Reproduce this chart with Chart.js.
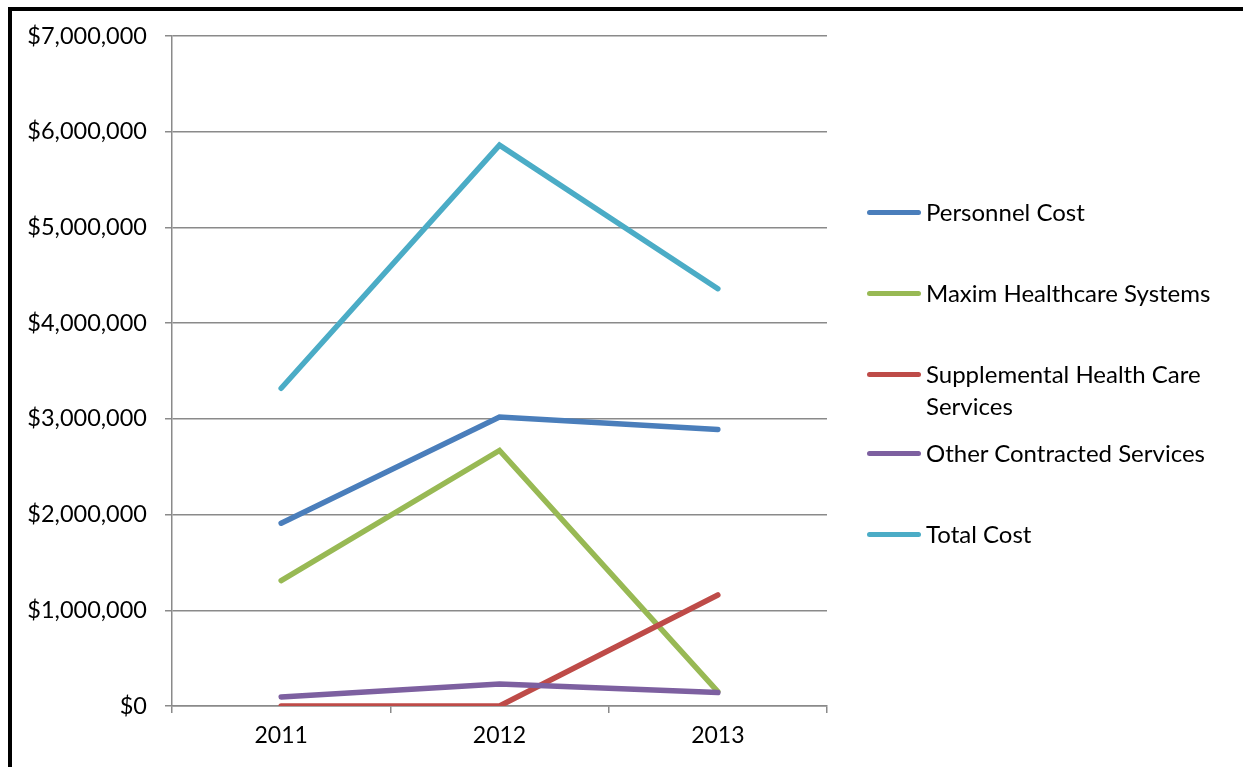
<!DOCTYPE html>
<html>
<head>
<meta charset="utf-8">
<script src="https://cdn.jsdelivr.net/npm/chart.js@4"></script>
<style>
    html, body { margin: 0; padding: 0; background: #fff; }
    body { width: 1243px; height: 767px; position: relative; overflow: hidden; font-family: Lato, "Open Sans", sans-serif; }
    #frame { position: absolute; left: 8px; top: 7px; width: 1300px; height: 800px; border-left: 4px solid #000; border-top: 4px solid #000; }
    #chart-wrap { position: absolute; left: 0; top: 0; width: 1243px; height: 767px; }
    #legend { position: absolute; left: 867px; top: 0; }
    .leg-item { position: absolute; left: 0; white-space: nowrap; font-size: 24px; color: #000; line-height: 32px; }
    .leg-line { position: absolute; left: 0; width: 54px; height: 5px; border-radius: 3px; }
    .leg-text { position: absolute; left: 59px; }
</style>
</head>
<body>
<div id="frame"></div>
<div id="chart-wrap"><canvas id="cost-chart" width="1243" height="767"></canvas></div>
<div id="legend"></div>
<script>
    const years = ['2011', '2012', '2013'];
    const seriesNames = ['Personnel Cost', 'Maxim Healthcare Systems', 'Supplemental Health Care Services', 'Other Contracted Services', 'Total Cost'];
    const personnelCost = [1910000, 3020000, 2890000];
    const maximCost = [1310000, 2670000, 150000];
    const supplementalCost = [0, 0, 1160000];
    const otherCost = [95000, 230000, 140000];
    const totalCost = [3320000, 5860000, 4360000];
    const seriesColors = ['#4A7EBB', '#98B954', '#BE4B48', '#7D60A0', '#4BACC6'];
    const yTicks = [0, 1000000, 2000000, 3000000, 4000000, 5000000, 6000000, 7000000];

    const allValues = [personnelCost, maximCost, supplementalCost, otherCost, totalCost];
    // two-line legend label for the long one, as in the original
    const legendLines = [['Personnel Cost'], ['Maxim Healthcare Systems'], ['Supplemental Health Care', 'Services'], ['Other Contracted Services'], ['Total Cost']];
    const legendTops = [196, 277, 358, 437, 518];

    const gridColor = '#8a8a8a';

    const datasets = allValues.map(function (vals, i) {
        return {
            label: seriesNames[i],
            data: vals,
            borderColor: seriesColors[i],
            backgroundColor: seriesColors[i],
            borderWidth: 5.5,
            pointRadius: 0,
            pointHoverRadius: 0,
            tension: 0,
            borderCapStyle: 'round',
            fill: false,
            order: allValues.length - i
        };
    });

    new Chart(document.getElementById('cost-chart'), {
        type: 'line',
        data: { labels: years, datasets: datasets },
        options: {
            responsive: false,
            animation: false,
            layout: { padding: { left: 0, top: 36, right: 416, bottom: 0 } },
            plugins: { legend: { display: false }, tooltip: { enabled: false } },
            scales: {
                x: {
                    offset: true,
                    afterFit: function (scale) { scale.height = 61; },
                    grid: { offset: true, drawOnChartArea: false, drawTicks: true, tickLength: 7, color: gridColor, lineWidth: 1.5 },
                    border: { display: true, color: gridColor, width: 1.5 },
                    ticks: { color: '#000', font: { family: 'Lato', size: 23 }, padding: 9, maxRotation: 0 }
                },
                y: {
                    min: 0,
                    max: 7000000,
                    afterFit: function (scale) { scale.width = 172; },
                    afterBuildTicks: function (scale) { scale.ticks = yTicks.map(function (v) { return { value: v }; }); },
                    grid: { color: gridColor, lineWidth: 1.5, tickLength: 7 },
                    border: { display: true, color: gridColor, width: 1.5 },
                    ticks: {
                        color: '#000',
                        padding: 18,
                        font: { family: 'Lato', size: 23.5 },
                        callback: function (v) { return '$' + Number(v).toLocaleString('en-US'); }
                    }
                }
            }
        }
    });

    const legend = document.getElementById('legend');
    datasets.forEach(function (ds, i) {
        const item = document.createElement('div');
        item.className = 'leg-item';
        item.style.top = legendTops[i] + 'px';
        item.innerHTML = '<div class="leg-line" style="top:14px;background:' + ds.borderColor + '"></div>' +
            '<div class="leg-text">' + legendLines[i].join('<br>') + '</div>';
        legend.appendChild(item);
    });
</script>
</body>
</html>
